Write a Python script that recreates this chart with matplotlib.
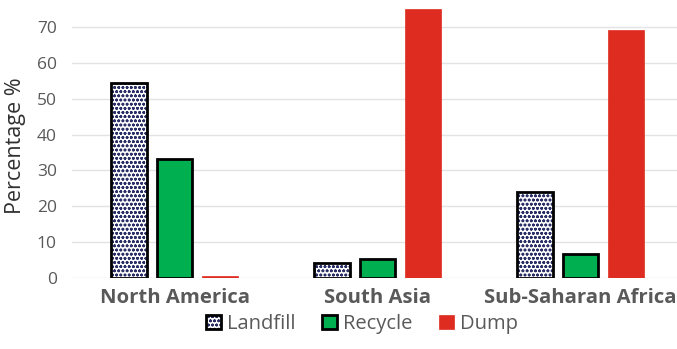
import numpy as np
import matplotlib
matplotlib.use("Agg")
import matplotlib.pyplot as plt

plt.rcParams['font.family'] = ['Open Sans', 'DejaVu Sans']
plt.rcParams['hatch.linewidth'] = 0.8

regions = ["North America", "South Asia", "Sub-Saharan Africa"]
series = ["Landfill", "Recycle", "Dump"]
landfill = [54.4, 4.1, 24.1]
recycle = [33.3, 5.2, 6.7]
dump = [0.5, 75.0, 69.1]
yticks = [0, 10, 20, 30, 40, 50, 60, 70]

text_grey = '#595959'
red = '#de2d20'
green = '#00b050'

fig = plt.figure(figsize=(6.77, 3.49), dpi=100)
ax = fig.add_axes([72 / 677, 71 / 349, 610 / 677, 278 / 349])

x = np.arange(len(regions))
w = 0.177
step = 0.222

# dotted fill first, black outline drawn on top so the hatch doesn't pick it up
lf_fill = ax.bar(x - step, landfill, w, color='white', edgecolor='#2a2f66',
                 hatch='oooo', linewidth=0, zorder=2)
lf_edge = ax.bar(x - step, landfill, w, color='none', edgecolor='black',
                 linewidth=2, zorder=3)
rc = ax.bar(x, recycle, w, color=green, edgecolor='black', linewidth=2,
            zorder=3)
dp = ax.bar(x + step, dump, w, color=red, edgecolor=red, linewidth=0.5,
            zorder=3)

ax.set_xlim(-0.505, 2.5)
ax.set_ylim(0, 77.5)
ax.set_yticks(yticks)
ax.set_xticks(x)
ax.set_xticklabels(regions, fontsize=14.6, fontweight='bold', color=text_grey)
ax.tick_params(axis='y', labelsize=12.5, labelcolor=text_grey, length=0, pad=11)
ax.tick_params(axis='x', length=0, pad=7)
ax.yaxis.grid(True, color='#e3e3e3', linewidth=1, zorder=0)
ax.set_axisbelow(True)
for s in ax.spines.values():
    s.set_visible(False)

fig.text(16 / 677, 203 / 349, 'Percentage %', rotation=90, fontsize=15.5,
         color='#303030', ha='center', va='center')

leg = fig.legend([(lf_fill, lf_edge), rc, dp], series, loc='center',
                 bbox_to_anchor=(362 / 677, 25 / 349), ncol=3, frameon=False,
                 fontsize=14.5, handlelength=0.75, handleheight=0.75,
                 handletextpad=0.3, columnspacing=1.3, labelcolor=text_grey)

fig.savefig('out.png', dpi=100)
